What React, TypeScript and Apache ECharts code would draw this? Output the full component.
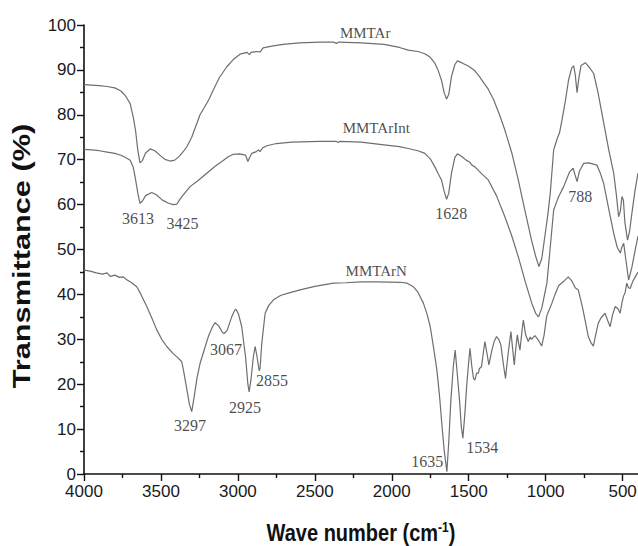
import React, { useEffect, useRef } from "react";
import * as echarts from "echarts";

// ---- Data (wavenumber cm^-1, transmittance %) ----
const MMTAR: [number, number][] = [
  [4000, 86.7], [3950, 86.6], [3900, 86.5], [3850, 86.3], [3800, 86.0], [3760, 85.3], [3730, 84.2],
  [3700, 82.5], [3680, 79.5], [3665, 76.5], [3650, 72], [3636, 69.3], [3620, 69.8], [3600, 71.5],
  [3570, 72.4], [3540, 72], [3500, 70.8], [3470, 70], [3440, 69.7], [3410, 69.9], [3380, 70.8],
  [3350, 72], [3330, 73], [3300, 75], [3270, 77.8], [3246, 80], [3220, 81.5], [3190, 83.3],
  [3160, 85.5], [3120, 88.3], [3072, 90.7], [3030, 92.3], [2986, 93.5], [2940, 93.9], [2925, 93.4],
  [2915, 93.9], [2880, 94.1], [2855, 94], [2836, 94.9], [2780, 95.3], [2706, 95.7], [2600, 96],
  [2466, 96.2], [2380, 96.2], [2360, 95.9], [2345, 96.2], [2200, 96], [2050, 95.7], [1950, 95],
  [1893, 94.4], [1830, 94.1], [1785, 93.6], [1750, 92.8], [1720, 91.5], [1700, 90], [1677, 87.7],
  [1660, 85], [1644, 83.5], [1630, 84.5], [1612, 88.5], [1590, 91.2], [1573, 92], [1540, 91.5],
  [1500, 90.8], [1460, 89.8], [1430, 88.5], [1400, 87], [1373, 85.7], [1340, 83.5], [1300, 80],
  [1265, 76.6], [1220, 71.5], [1178, 65.5], [1140, 59.5], [1092, 52.1], [1065, 48.5], [1044, 46.2],
  [1025, 48], [1005, 53], [985, 58], [970, 62.6], [948, 72.2], [927, 74.5], [910, 76], [894, 78.8],
  [870, 83.5], [851, 87.8], [830, 90.5], [818, 90.9], [808, 89], [796, 84.9], [785, 88], [770, 91],
  [742, 91.6], [715, 90.5], [688, 89.2], [660, 85], [623, 78.2], [590, 72.2], [558, 67], [540, 62],
  [526, 57.3], [515, 58.5], [504, 61.8], [495, 61], [485, 56], [468, 52.1], [455, 54], [440, 58],
  [420, 63], [400, 67],
];

const MMTARINT: [number, number][] = [
  [4000, 72.3], [3950, 72.2], [3900, 72], [3850, 71.7], [3800, 71.4], [3760, 71], [3730, 70.5],
  [3700, 69.9], [3680, 68.3], [3668, 66.2], [3650, 62.5], [3636, 60.3], [3620, 60.8], [3600, 62],
  [3560, 62.7], [3530, 62.2], [3490, 61], [3450, 60.3], [3420, 60], [3397, 60.1], [3370, 61.5],
  [3340, 62.8], [3311, 64], [3260, 65.3], [3202, 67], [3150, 68.5], [3100, 69.7], [3060, 70.7],
  [3029, 71.2], [2990, 71.3], [2950, 71], [2935, 69.6], [2925, 70.4], [2910, 71.4], [2880, 71.8],
  [2866, 72.2], [2856, 71.8], [2840, 72.6], [2812, 73.1], [2750, 73.6], [2650, 73.9], [2466, 74.1],
  [2360, 74.1], [2349, 73.8], [2338, 74.1], [2200, 73.9], [2050, 73.3], [1950, 72.9], [1893, 72.5],
  [1830, 72], [1785, 71.4], [1750, 70.2], [1720, 68.4], [1700, 67], [1677, 65.5], [1660, 63],
  [1644, 61.2], [1630, 62.5], [1612, 67], [1590, 70.5], [1573, 71.3], [1545, 70.7], [1517, 69.9],
  [1495, 69.5], [1480, 68.8], [1460, 68.4], [1420, 67], [1373, 65.5], [1320, 62], [1265, 57.3],
  [1220, 53], [1178, 48.4], [1130, 42.5], [1090, 38], [1065, 35.8], [1046, 35], [1025, 37],
  [1010, 39.5], [992, 42.5], [970, 50.6], [948, 58.8], [930, 60.5], [915, 61.8], [883, 64],
  [860, 66], [844, 67.3], [822, 68.1], [808, 66.5], [796, 65.1], [780, 67.5], [753, 69.2],
  [720, 69.3], [690, 69], [667, 68.8], [645, 67], [623, 64.7], [590, 59], [558, 53.6], [535, 50.5],
  [515, 49.2], [505, 50.5], [493, 51.4], [480, 48], [461, 43.2], [440, 46], [418, 49.9], [400, 53],
];

const MMTARN: [number, number][] = [
  [4000, 45.4], [3960, 45.2], [3920, 44.8], [3880, 44.5], [3850, 44.8], [3830, 44], [3800, 44.3],
  [3770, 43.8], [3744, 43.9], [3720, 43.2], [3700, 42.8], [3680, 42.3], [3657, 41.7], [3630, 40],
  [3592, 37.3], [3560, 34.8], [3527, 32.1], [3495, 30], [3462, 28.4], [3420, 26.8], [3387, 25.8],
  [3365, 25], [3354, 23.2], [3335, 19.5], [3315, 15.5], [3300, 13.9], [3285, 17], [3265, 21.5],
  [3246, 24.6], [3220, 27.5], [3192, 30.6], [3165, 32.8], [3148, 33.7], [3125, 33], [3100, 31.5],
  [3090, 31.3], [3070, 32], [3040, 35], [3020, 36.5], [3012, 36.7], [2995, 35.5], [2975, 32.8],
  [2950, 26], [2935, 20], [2927, 18.3], [2915, 21], [2900, 26], [2888, 28.4], [2875, 26],
  [2862, 23], [2856, 23.5], [2845, 29], [2823, 35.8], [2800, 37.5], [2769, 38.8], [2720, 39.8],
  [2661, 40.4], [2596, 41], [2500, 41.8], [2379, 42.5], [2300, 42.6], [2200, 42.8], [2100, 42.8],
  [1946, 42.7], [1900, 42.5], [1859, 41.7], [1830, 40.5], [1794, 38], [1770, 35.5], [1750, 32.8],
  [1730, 28.5], [1707, 23.2], [1690, 17.5], [1675, 11.3], [1660, 5.5], [1642, 0.5], [1630, 7],
  [1616, 16.5], [1600, 24], [1588, 27.6], [1575, 22.5], [1560, 16.5], [1548, 10.5], [1538, 8],
  [1525, 13.5], [1512, 20.2], [1500, 25], [1492, 28], [1480, 24], [1469, 21.3], [1460, 20.9],
  [1448, 22.5], [1438, 22.4], [1430, 23.5], [1417, 23.9], [1405, 27], [1395, 29.5], [1382, 27],
  [1369, 24.3], [1350, 27.5], [1335, 29.5], [1319, 30.6], [1305, 30], [1291, 28.7], [1275, 24.5],
  [1261, 21.3], [1245, 26.5], [1226, 31.7], [1215, 28], [1204, 24.3], [1194, 28], [1184, 31],
  [1175, 29], [1167, 27.6], [1155, 31.5], [1145, 34.3], [1130, 31], [1113, 29.5], [1100, 30.5],
  [1092, 30], [1070, 30.8], [1047, 29.8], [1026, 28.5], [1010, 31], [994, 35], [983, 36.1],
  [960, 38], [940, 39.9], [915, 42], [880, 43], [853, 43.9], [830, 43], [808, 41.5], [788, 41],
  [760, 37], [740, 33.6], [723, 30.6], [705, 29.2], [690, 28.5], [675, 31], [658, 33.6], [640, 34.8],
  [614, 35.8], [595, 34], [581, 32.8], [565, 35.5], [548, 37.3], [530, 36.8], [516, 35.8], [505, 38],
  [495, 39.5], [483, 40.5], [473, 42.5], [462, 41.5], [451, 41.3], [435, 42.8], [418, 43.9], [400, 45],
];

const X_MAJOR_TICKS = [500, 1000, 1500, 2000, 2500, 3000, 3500, 4000];
const X_MINOR_TICKS = [750, 1250, 1750, 2250, 2750, 3250, 3750];

// curve names and peak annotations: [text, wavenumber position, transmittance position]
const CURVE_NAMES: [string, number, number][] = [
  ["MMTAr", 2173, 98.2],
  ["MMTArInt", 2101, 77.1],
  ["MMTArN", 2101, 45.2],
];
const PEAK_LABELS: [string, number, number][] = [
  ["3613", 3649, 56.8],
  ["3425", 3360, 55.9],
  ["1628", 1614, 58.1],
  ["788", 775, 61.9],
  ["3297", 3311, 10.7],
  ["3067", 3077, 27.8],
  ["2925", 2953, 14.7],
  ["2855", 2778, 20.9],
  ["1635", 1770, 2.7],
  ["1534", 1412, 5.8],
];

const LINE_COLOR = "#6e6e6e";
const SANS = '"Liberation Sans", Arial, sans-serif';
const SERIF = '"Liberation Serif", "Times New Roman", serif';

export default function App() {
  const ref = useRef<HTMLDivElement>(null);
  useEffect(() => {
    if (!ref.current) return;
    const chart = echarts.init(ref.current, null, { renderer: "svg" });
    const lineSeries = (name: string, data: [number, number][]) => ({
      name,
      type: "line",
      data,
      showSymbol: false,
      symbol: "none",
      smooth: false,
      clip: false,
      lineStyle: { color: LINE_COLOR, width: 1.2 },
      z: 2,
    });
    const textSeries = (name: string, items: [string, number, number][], size: number) => ({
      name,
      type: "scatter",
      symbolSize: 1,
      itemStyle: { color: "rgba(0,0,0,0)" },
      silent: true,
      z: 5,
      label: {
        show: true,
        position: "inside",
        formatter: "{b}",
        color: "#1a1a1a",
        fontFamily: SERIF,
        fontSize: size,
      },
      data: items.map(([t, x, y]) => ({ name: t, value: [x, y] })),
    });
    chart.setOption({
      animation: false,
      backgroundColor: "#ffffff",
      grid: { left: 84, right: 0, top: 25, bottom: 72, containLabel: false, outerBoundsMode: "none" },
      xAxis: [
        {
          type: "value",
          inverse: true,
          min: 400,
          max: 4000,
          axisLine: { show: true, onZero: false, lineStyle: { color: "#111", width: 1.6 } },
          axisTick: { show: true, customValues: X_MAJOR_TICKS, length: 7, lineStyle: { color: "#111", width: 1.4 } },
          axisLabel: {
            customValues: X_MAJOR_TICKS,
            formatter: (v: number) => String(v),
            fontSize: 17,
            color: "#1a1a1a",
            fontFamily: SANS,
            margin: 9,
            hideOverlap: false,
          },
          splitLine: { show: false },
        },
        {
          type: "value",
          inverse: true,
          min: 400,
          max: 4000,
          position: "bottom",
          axisLine: { show: false },
          axisTick: { show: true, customValues: X_MINOR_TICKS, length: 4, lineStyle: { color: "#111", width: 1.4 } },
          axisLabel: { show: false },
          splitLine: { show: false },
        },
      ],
      yAxis: {
        type: "value",
        min: 0,
        max: 100,
        interval: 10,
        axisLine: { show: true, lineStyle: { color: "#111", width: 1.6 } },
        axisTick: { show: true, length: 7, lineStyle: { color: "#111", width: 1.4 } },
        minorTick: { show: true, splitNumber: 2, length: 4, lineStyle: { color: "#111", width: 1.4 } },
        axisLabel: { fontSize: 17, color: "#1a1a1a", fontFamily: SANS, margin: 8 },
        splitLine: { show: false },
      },
      series: [
        lineSeries("MMTAr", MMTAR),
        lineSeries("MMTArInt", MMTARINT),
        lineSeries("MMTArN", MMTARN),
        textSeries("names", CURVE_NAMES, 15),
        textSeries("peaks", PEAK_LABELS, 16),
      ],
      graphic: [
        {
          type: "text",
          x: 22,
          y: 256,
          rotation: Math.PI / 2,
          scaleX: 1.28,
          style: {
            text: "Transmittance (%)",
            font: `bold 24px ${SANS}`,
            fill: "#111",
            align: "center",
            verticalAlign: "middle",
          },
        },
        {
          type: "text",
          x: 361,
          y: 533,
          scaleY: 1.2,
          style: {
            text: "{a|Wave number (cm}{s|-1}{a|)}",
            align: "center",
            verticalAlign: "middle",
            rich: {
              a: { font: `bold 20px ${SANS}`, fill: "#111" },
              s: { font: `bold 12px ${SANS}`, fill: "#111", verticalAlign: "top", padding: [0, 0, 10, 0] },
            },
          },
        },
      ],
    });
    return () => chart.dispose();
  }, []);
  return (
    <div
      ref={ref}
      style={{ position: "fixed", left: 0, top: 0, width: 638, height: 546, background: "#fff" }}
    />
  );
}
